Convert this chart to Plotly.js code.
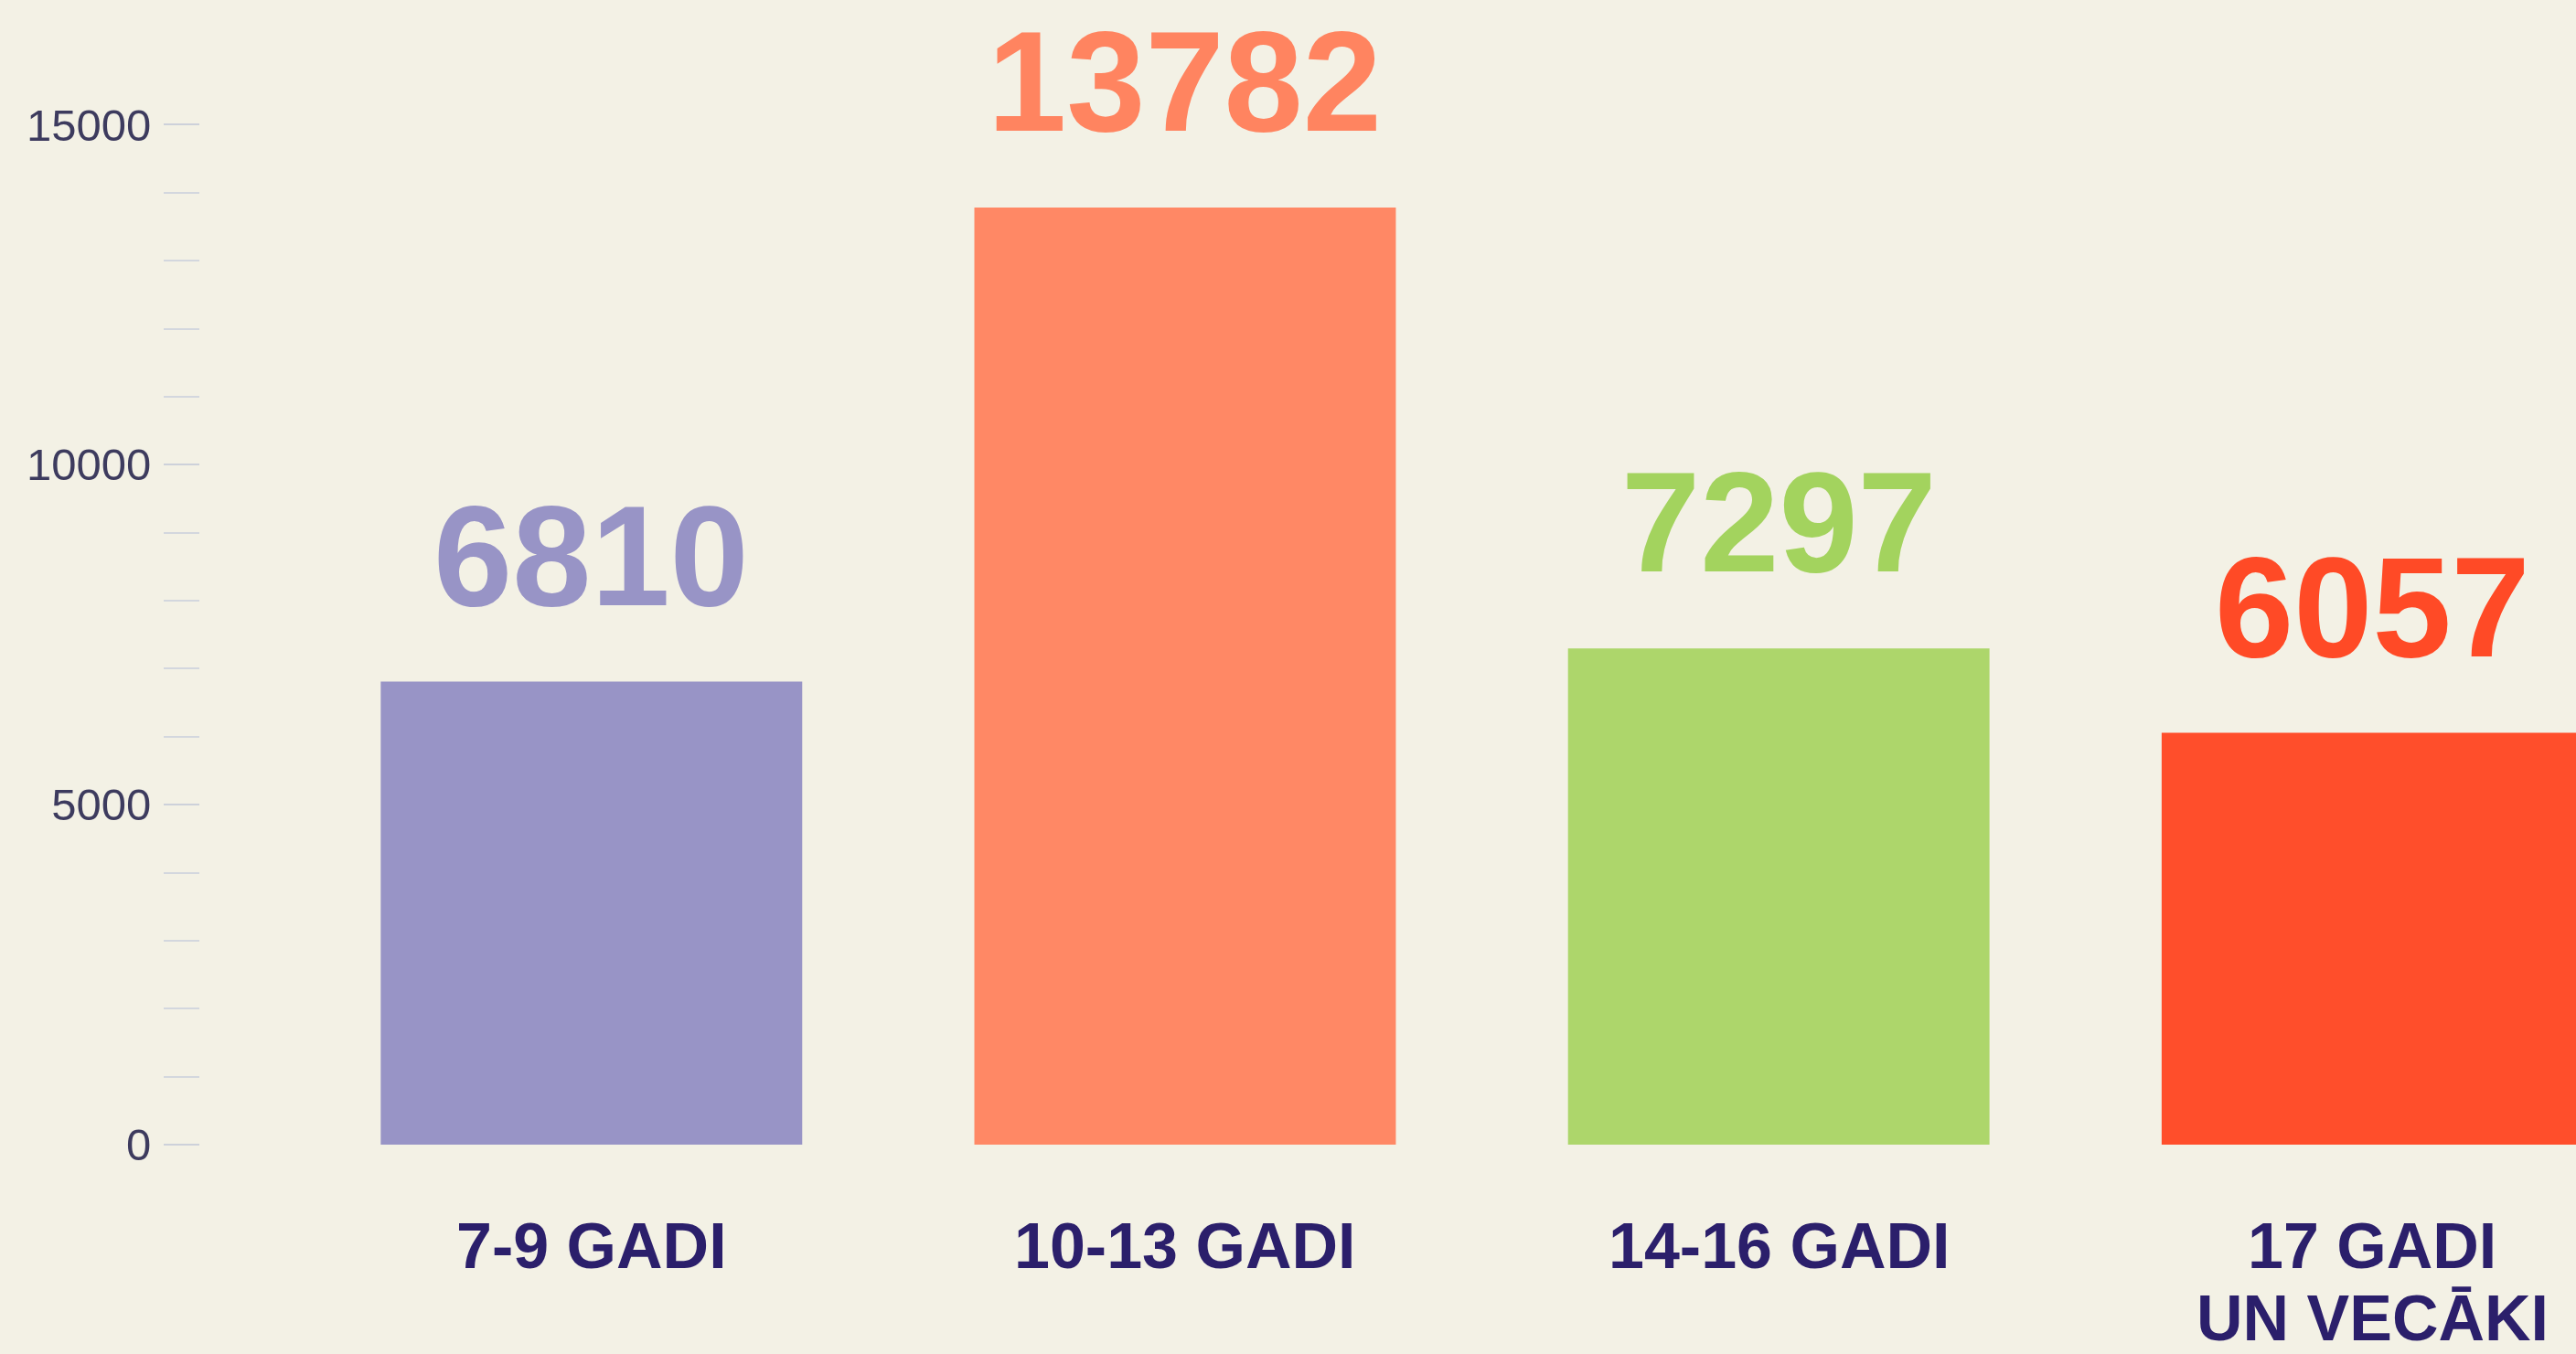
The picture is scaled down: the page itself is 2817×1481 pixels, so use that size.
<!DOCTYPE html>
<html>
<head>
<meta charset="utf-8">
<script src="https://cdn.plot.ly/plotly-3.0.1.min.js"></script>
<style>
  html, body { margin: 0; padding: 0; background: #F3F1E5; }
  #chart { width: 2817px; height: 1481px; }
</style>
</head>
<body>
<div id="chart"></div>
<script>
const categories = ['7-9 GADI', '10-13 GADI', '14-16 GADI', '17 GADI<br>UN VECĀKI'];
const values = [6810, 13782, 7297, 6057];
const valueLabels = ['6810', '13782', '7297', '6057'];
const yTickValues = [0, 5000, 10000, 15000];
const yTickLabels = ['0', '5000', '10000', '15000'];
const yMinorTickValues = [1000, 2000, 3000, 4000, 6000, 7000, 8000, 9000, 11000, 12000, 13000, 14000];

const barColors = ['#9894C6', '#FF8865', '#ADD66B', '#FF4E2B'];
const labelColors = ['#9894C6', '#FF8460', '#A3D35E', '#FF4A26'];

const FONT = 'Liberation Sans, Arial, sans-serif';

const trace = {
  type: 'bar',
  x: categories,
  y: values,
  marker: { color: barColors, line: { width: 0 } },
  hoverinfo: 'none'
};

const valueAnnotations = categories.map((c, i) => ({
  x: c, y: values[i], xref: 'x', yref: 'y',
  text: valueLabels[i],
  showarrow: false, yanchor: 'bottom', xanchor: 'center',
  yshift: 49,
  font: { family: FONT, size: 155, color: labelColors[i], weight: 'bold' }
}));

const categoryAnnotations = [];
categories.forEach((c) => {
  c.split('<br>').forEach((line, j) => {
    categoryAnnotations.push({
      x: c, y: 0, xref: 'x', yref: 'y',
      text: line,
      showarrow: false, yanchor: 'top', xanchor: 'center',
      borderpad: 0,
      yshift: -71 - j * 79,
      font: { family: FONT, size: 70, color: '#2B1F6B', weight: 'bold' }
    });
  });
});

const layout = {
  width: 2817,
  height: 1481,
  paper_bgcolor: '#F3F1E5',
  plot_bgcolor: '#F3F1E5',
  margin: { l: 219, r: 0, t: 0, b: 229 },
  showlegend: false,
  bargap: 0.29,
  xaxis: {
    type: 'category',
    range: [-0.659, 3.343],
    showgrid: false, zeroline: false, showline: false,
    ticks: '', showticklabels: false
  },
  yaxis: {
    range: [0, 16835],
    tickmode: 'array',
    tickvals: yTickValues,
    ticktext: yTickLabels,
    showgrid: false, zeroline: false, showline: false,
    ticks: 'outside', ticklen: 39, tickwidth: 2, tickcolor: '#CDD1DA',
    ticklabelstandoff: 4,
    tickfont: { family: FONT, size: 49, color: '#3D3B5E' },
    minor: { tickmode: 'array', tickvals: yMinorTickValues, ticks: 'outside', ticklen: 39, tickwidth: 2, tickcolor: '#D3D7DE', showgrid: false }
  },
  annotations: valueAnnotations.concat(categoryAnnotations)
};

Plotly.newPlot('chart', [trace], layout, { displayModeBar: false, staticPlot: true });
</script>
</body>
</html>
